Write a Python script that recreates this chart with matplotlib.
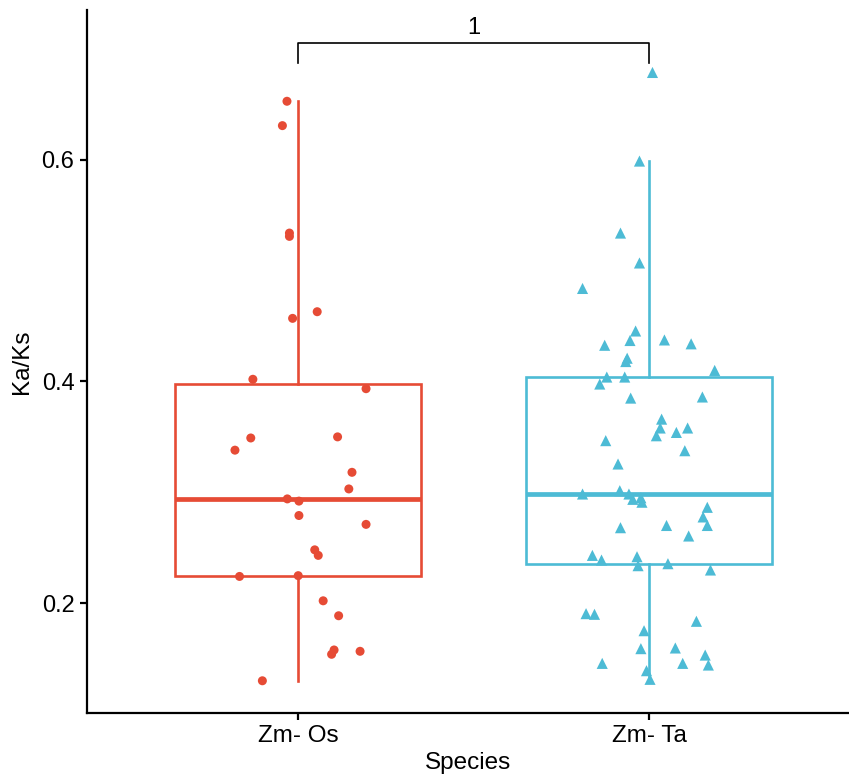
import matplotlib
matplotlib.use("Agg")
import matplotlib.pyplot as plt
import numpy as np

plt.rcParams['font.family'] = ['Liberation Sans', 'DejaVu Sans']

categories = ["Zm- Os", "Zm- Ta"]
colors = ["#E64B35", "#4DBBD5"]

os_values = [0.653, 0.631, 0.534, 0.531, 0.463, 0.457, 0.402, 0.3935, 0.349, 0.338,
             0.350, 0.318, 0.303, 0.294, 0.292, 0.279, 0.271, 0.248, 0.243, 0.224,
             0.2247, 0.202, 0.1885, 0.1576, 0.1537, 0.1564, 0.1298]
os_jitter = [-0.031, -0.044, -0.024, -0.024, 0.055, -0.015, -0.128, 0.194, -0.134, -0.179,
             0.113, 0.154, 0.145, -0.030, 0.003, 0.003, 0.194, 0.048, 0.058, -0.166,
             0.001, 0.072, 0.116, 0.103, 0.096, 0.177, -0.101]

ta_values = [0.679, 0.599, 0.534, 0.507, 0.484, 0.4456, 0.437, 0.4327, 0.4375, 0.434,
             0.421, 0.418, 0.410, 0.404, 0.404, 0.3977, 0.385, 0.386, 0.366, 0.358,
             0.351, 0.354, 0.358, 0.3466, 0.3375, 0.3255, 0.2984, 0.3014, 0.2984, 0.2936,
             0.295, 0.291, 0.2864, 0.2777, 0.270, 0.268, 0.270, 0.2605, 0.243, 0.2388,
             0.2418, 0.2337, 0.2355, 0.2298, 0.1904, 0.1898, 0.1835, 0.175, 0.1588, 0.1594,
             0.1530, 0.1455, 0.1455, 0.1440, 0.1389, 0.1311]
ta_jitter = [0.009, -0.028, -0.082, -0.028, -0.190, -0.039, -0.055, -0.127, 0.043, 0.119,
             -0.063, -0.067, 0.186, -0.121, -0.070, -0.141, -0.053, 0.151, 0.035, 0.031,
             0.020, 0.077, 0.109, -0.124, 0.101, -0.089, -0.190, -0.084, -0.058, -0.047,
             -0.024, -0.021, 0.165, 0.153, 0.165, -0.082, 0.049, 0.112, -0.162, -0.136,
             -0.035, -0.032, 0.053, 0.174, -0.180, -0.156, 0.134, -0.015, -0.024, 0.074,
             0.159, -0.134, 0.095, 0.168, -0.008, 0.002]

p_label = "1"
yticks = [0.2, 0.4, 0.6]
ytick_labels = ["0.2", "0.4", "0.6"]

W, H = 849, 776
fig = plt.figure(figsize=(W / 100, H / 100), dpi=100)
ax = fig.add_axes([87 / W, (H - 713) / H, (W - 87) / W, (713 - 10) / H])

data = [os_values, ta_values]
positions = [1, 2]
for i, (vals, col) in enumerate(zip(data, colors)):
    ax.boxplot([vals], positions=[positions[i]], widths=0.7, showfliers=False,
               showcaps=False, patch_artist=True,
               boxprops=dict(facecolor="white", edgecolor=col, linewidth=1.9),
               whiskerprops=dict(color=col, linewidth=1.9),
               medianprops=dict(color=col, linewidth=3.4, solid_capstyle="butt"),
               zorder=2)

ax.scatter(np.array(os_jitter) + 1, os_values, s=42, marker="o", color=colors[0],
           edgecolors="none", zorder=3)
ax.scatter(np.array(ta_jitter) + 2, ta_values, s=64, marker="^", color=colors[1],
           edgecolors="none", zorder=3)

# significance bracket
yb = 0.7056
ytip = 0.688
ax.plot([1, 1, 2, 2], [ytip, yb, yb, ytip], color="black", linewidth=1.2, zorder=4)
ax.text(1.5, yb + 0.004, p_label, ha="center", va="bottom", fontsize=17)

ax.set_xlim(0.4, 2 + 200 / 352)
ax.set_ylim(0.1007, 0.7354)
ax.set_xticks(positions)
ax.set_xticklabels(categories, fontsize=17.5)
ax.set_yticks(yticks)
ax.set_yticklabels(ytick_labels, fontsize=17)
ax.set_xlabel("Species", fontsize=17.5, labelpad=3)
ax.set_ylabel("Ka/Ks", fontsize=17.5, labelpad=6)

for s in ["top", "right"]:
    ax.spines[s].set_visible(False)
for s in ["left", "bottom"]:
    ax.spines[s].set_linewidth(1.6)
ax.tick_params(axis="both", width=1.6, length=5, color="black", pad=4)

fig.savefig("out.png", dpi=100)
